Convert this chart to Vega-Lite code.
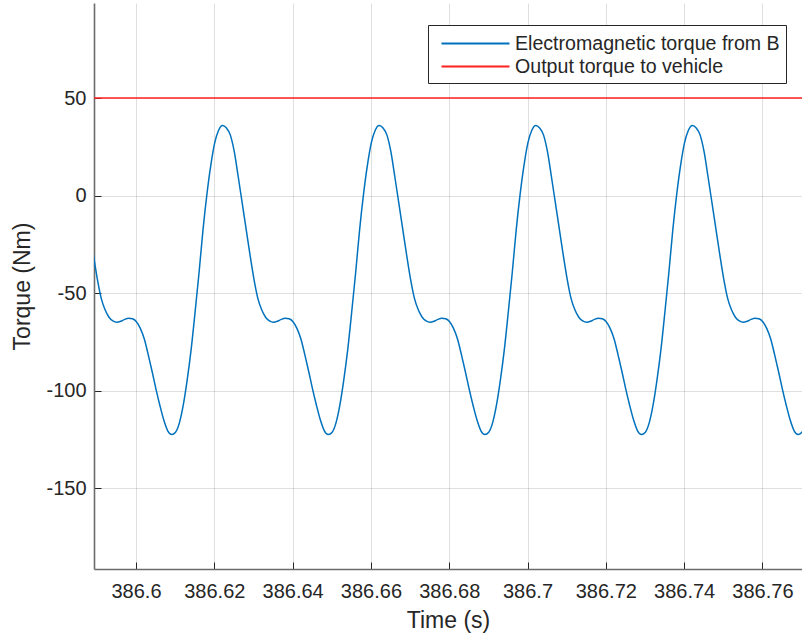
{
  "$schema": "https://vega.github.io/schema/vega-lite/v6.json",
  "width": 708,
  "height": 566,
  "autosize": {"type": "none"},
  "padding": {"left": 94, "top": 3, "right": 0, "bottom": 69},
  "background": "white",
  "view": {"stroke": null},
  "config": {
    "font": "Liberation Sans",
    "axis": {
      "labelFont": "Liberation Sans",
      "labelFontSize": 20,
      "labelColor": "#262626",
      "titleFont": "Liberation Sans",
      "titleFontSize": 23,
      "titleFontWeight": "normal",
      "titleColor": "#262626",
      "domainColor": "#6b6b6b",
      "domainWidth": 1.6,
      "tickColor": "#262626",
      "tickSize": -7,
      "tickWidth": 1,
      "gridColor": "#262626",
      "gridOpacity": 0.15,
      "gridWidth": 1
    }
  },
  "datasets": {
    "em": [
      {"t": 386.5881, "v": -16.8}, {"t": 386.5891, "v": -30.1}, {"t": 386.5901, "v": -42.5}, {"t": 386.5911, "v": -52.5},
      {"t": 386.5921, "v": -58.5}, {"t": 386.5931, "v": -62.3}, {"t": 386.5941, "v": -64.2}, {"t": 386.5951, "v": -64.9},
      {"t": 386.5961, "v": -64.4}, {"t": 386.5971, "v": -63.4}, {"t": 386.5981, "v": -62.8}, {"t": 386.5991, "v": -63.1},
      {"t": 386.6001, "v": -64.6}, {"t": 386.6011, "v": -68.0}, {"t": 386.6021, "v": -73.3}, {"t": 386.6031, "v": -81.3},
      {"t": 386.6041, "v": -90.0}, {"t": 386.6051, "v": -99.1}, {"t": 386.6061, "v": -107.5}, {"t": 386.6071, "v": -115.0},
      {"t": 386.6081, "v": -120.5}, {"t": 386.6091, "v": -122.4}, {"t": 386.6101, "v": -121.2}, {"t": 386.6111, "v": -116.3},
      {"t": 386.6121, "v": -107.0}, {"t": 386.6131, "v": -94.0}, {"t": 386.6141, "v": -78.5}, {"t": 386.6151, "v": -59.5},
      {"t": 386.6161, "v": -39.5}, {"t": 386.6171, "v": -17.8}, {"t": 386.6181, "v": 0.5}, {"t": 386.6191, "v": 15.5},
      {"t": 386.6201, "v": 27.0}, {"t": 386.6211, "v": 33.5},

      {"t": 386.6221, "v": 35.9}, {"t": 386.6231, "v": 34.7}, {"t": 386.6241, "v": 31.0}, {"t": 386.6251, "v": 22.5},
      {"t": 386.6261, "v": 9.8}, {"t": 386.6271, "v": -3.5}, {"t": 386.6281, "v": -16.8}, {"t": 386.6291, "v": -30.1},
      {"t": 386.6301, "v": -42.5}, {"t": 386.6311, "v": -52.5}, {"t": 386.6321, "v": -58.5}, {"t": 386.6331, "v": -62.3},
      {"t": 386.6341, "v": -64.2}, {"t": 386.6351, "v": -64.9}, {"t": 386.6361, "v": -64.4}, {"t": 386.6371, "v": -63.4},
      {"t": 386.6381, "v": -62.8}, {"t": 386.6391, "v": -63.1}, {"t": 386.6401, "v": -64.6}, {"t": 386.6411, "v": -68.0},
      {"t": 386.6421, "v": -73.3}, {"t": 386.6431, "v": -81.3}, {"t": 386.6441, "v": -90.0}, {"t": 386.6451, "v": -99.1},
      {"t": 386.6461, "v": -107.5}, {"t": 386.6471, "v": -115.0}, {"t": 386.6481, "v": -120.5}, {"t": 386.6491, "v": -122.4},
      {"t": 386.6501, "v": -121.2}, {"t": 386.6511, "v": -116.3}, {"t": 386.6521, "v": -107.0}, {"t": 386.6531, "v": -94.0},
      {"t": 386.6541, "v": -78.5}, {"t": 386.6551, "v": -59.5}, {"t": 386.6561, "v": -39.5}, {"t": 386.6571, "v": -17.8},
      {"t": 386.6581, "v": 0.5}, {"t": 386.6591, "v": 15.5}, {"t": 386.6601, "v": 27.0}, {"t": 386.6611, "v": 33.5},

      {"t": 386.6621, "v": 35.9}, {"t": 386.6631, "v": 34.7}, {"t": 386.6641, "v": 31.0}, {"t": 386.6651, "v": 22.5},
      {"t": 386.6661, "v": 9.8}, {"t": 386.6671, "v": -3.5}, {"t": 386.6681, "v": -16.8}, {"t": 386.6691, "v": -30.1},
      {"t": 386.6701, "v": -42.5}, {"t": 386.6711, "v": -52.5}, {"t": 386.6721, "v": -58.5}, {"t": 386.6731, "v": -62.3},
      {"t": 386.6741, "v": -64.2}, {"t": 386.6751, "v": -64.9}, {"t": 386.6761, "v": -64.4}, {"t": 386.6771, "v": -63.4},
      {"t": 386.6781, "v": -62.8}, {"t": 386.6791, "v": -63.1}, {"t": 386.6801, "v": -64.6}, {"t": 386.6811, "v": -68.0},
      {"t": 386.6821, "v": -73.3}, {"t": 386.6831, "v": -81.3}, {"t": 386.6841, "v": -90.0}, {"t": 386.6851, "v": -99.1},
      {"t": 386.6861, "v": -107.5}, {"t": 386.6871, "v": -115.0}, {"t": 386.6881, "v": -120.5}, {"t": 386.6891, "v": -122.4},
      {"t": 386.6901, "v": -121.2}, {"t": 386.6911, "v": -116.3}, {"t": 386.6921, "v": -107.0}, {"t": 386.6931, "v": -94.0},
      {"t": 386.6941, "v": -78.5}, {"t": 386.6951, "v": -59.5}, {"t": 386.6961, "v": -39.5}, {"t": 386.6971, "v": -17.8},
      {"t": 386.6981, "v": 0.5}, {"t": 386.6991, "v": 15.5}, {"t": 386.7001, "v": 27.0}, {"t": 386.7011, "v": 33.5},

      {"t": 386.7021, "v": 35.9}, {"t": 386.7031, "v": 34.7}, {"t": 386.7041, "v": 31.0}, {"t": 386.7051, "v": 22.5},
      {"t": 386.7061, "v": 9.8}, {"t": 386.7071, "v": -3.5}, {"t": 386.7081, "v": -16.8}, {"t": 386.7091, "v": -30.1},
      {"t": 386.7101, "v": -42.5}, {"t": 386.7111, "v": -52.5}, {"t": 386.7121, "v": -58.5}, {"t": 386.7131, "v": -62.3},
      {"t": 386.7141, "v": -64.2}, {"t": 386.7151, "v": -64.9}, {"t": 386.7161, "v": -64.4}, {"t": 386.7171, "v": -63.4},
      {"t": 386.7181, "v": -62.8}, {"t": 386.7191, "v": -63.1}, {"t": 386.7201, "v": -64.6}, {"t": 386.7211, "v": -68.0},
      {"t": 386.7221, "v": -73.3}, {"t": 386.7231, "v": -81.3}, {"t": 386.7241, "v": -90.0}, {"t": 386.7251, "v": -99.1},
      {"t": 386.7261, "v": -107.5}, {"t": 386.7271, "v": -115.0}, {"t": 386.7281, "v": -120.5}, {"t": 386.7291, "v": -122.4},
      {"t": 386.7301, "v": -121.2}, {"t": 386.7311, "v": -116.3}, {"t": 386.7321, "v": -107.0}, {"t": 386.7331, "v": -94.0},
      {"t": 386.7341, "v": -78.5}, {"t": 386.7351, "v": -59.5}, {"t": 386.7361, "v": -39.5}, {"t": 386.7371, "v": -17.8},
      {"t": 386.7381, "v": 0.5}, {"t": 386.7391, "v": 15.5}, {"t": 386.7401, "v": 27.0}, {"t": 386.7411, "v": 33.5},

      {"t": 386.7421, "v": 35.9}, {"t": 386.7431, "v": 34.7}, {"t": 386.7441, "v": 31.0}, {"t": 386.7451, "v": 22.5},
      {"t": 386.7461, "v": 9.8}, {"t": 386.7471, "v": -3.5}, {"t": 386.7481, "v": -16.8}, {"t": 386.7491, "v": -30.1},
      {"t": 386.7501, "v": -42.5}, {"t": 386.7511, "v": -52.5}, {"t": 386.7521, "v": -58.5}, {"t": 386.7531, "v": -62.3},
      {"t": 386.7541, "v": -64.2}, {"t": 386.7551, "v": -64.9}, {"t": 386.7561, "v": -64.4}, {"t": 386.7571, "v": -63.4},
      {"t": 386.7581, "v": -62.8}, {"t": 386.7591, "v": -63.1}, {"t": 386.7601, "v": -64.6}, {"t": 386.7611, "v": -68.0},
      {"t": 386.7621, "v": -73.3}, {"t": 386.7631, "v": -81.3}, {"t": 386.7641, "v": -90.0}, {"t": 386.7651, "v": -99.1},
      {"t": 386.7661, "v": -107.5}, {"t": 386.7671, "v": -115.0}, {"t": 386.7681, "v": -120.5}, {"t": 386.7691, "v": -122.4},
      {"t": 386.7701, "v": -121.2}, {"t": 386.7711, "v": -116.3}
    ],
    "out": [
      {"t": 386.5881, "v": 50},
      {"t": 386.7711, "v": 50}
    ]
  },
  "encoding": {
    "x": {
      "field": "t",
      "type": "quantitative",
      "scale": {"domain": [386.58927, 386.77011], "nice": false, "zero": false},
      "axis": {
        "title": "Time (s)",
        "values": [386.6, 386.62, 386.64, 386.66, 386.68, 386.7, 386.72, 386.74, 386.76],
        "format": ".5~r",
        "labelPadding": 19,
        "titlePadding": 8,
        "grid": true
      }
    },
    "y": {
      "field": "v",
      "type": "quantitative",
      "scale": {"domain": [-191.3, 98.7], "nice": false, "zero": false},
      "axis": {
        "title": "Torque (Nm)",
        "values": [-150, -100, -50, 0, 50],
        "labelExpr": "toString(datum.value)",
        "labelPadding": 15,
        "titlePadding": 11,
        "grid": true
      }
    }
  },
  "layer": [
    {
      "data": {"name": "em"},
      "mark": {"type": "line", "interpolate": "monotone", "strokeWidth": 1.5, "clip": true},
      "encoding": {
        "color": {
          "datum": "Electromagnetic torque from B",
          "type": "nominal",
          "scale": {
            "domain": ["Electromagnetic torque from B", "Output torque to vehicle"],
            "range": ["#0072BD", "#FF2020"]
          },
          "legend": {
            "title": null,
            "orient": "none",
            "legendX": 334,
            "legendY": 22,
            "direction": "vertical",
            "symbolType": "M-3,0H3",
            "symbolSize": 514,
            "symbolStrokeWidth": 2,
            "symbolOffset": 29,
            "labelFont": "Liberation Sans",
            "labelFontSize": 19.6,
            "labelColor": "#262626",
            "labelLimit": 400,
            "labelOffset": 27,
            "strokeColor": "#262626",
            "fillColor": "white",
            "padding": 6,
            "rowPadding": 0
          }
        }
      }
    },
    {
      "data": {"name": "out"},
      "mark": {"type": "line", "strokeWidth": 1.5, "clip": true},
      "encoding": {
        "color": {"datum": "Output torque to vehicle", "type": "nominal"}
      }
    }
  ]
}
